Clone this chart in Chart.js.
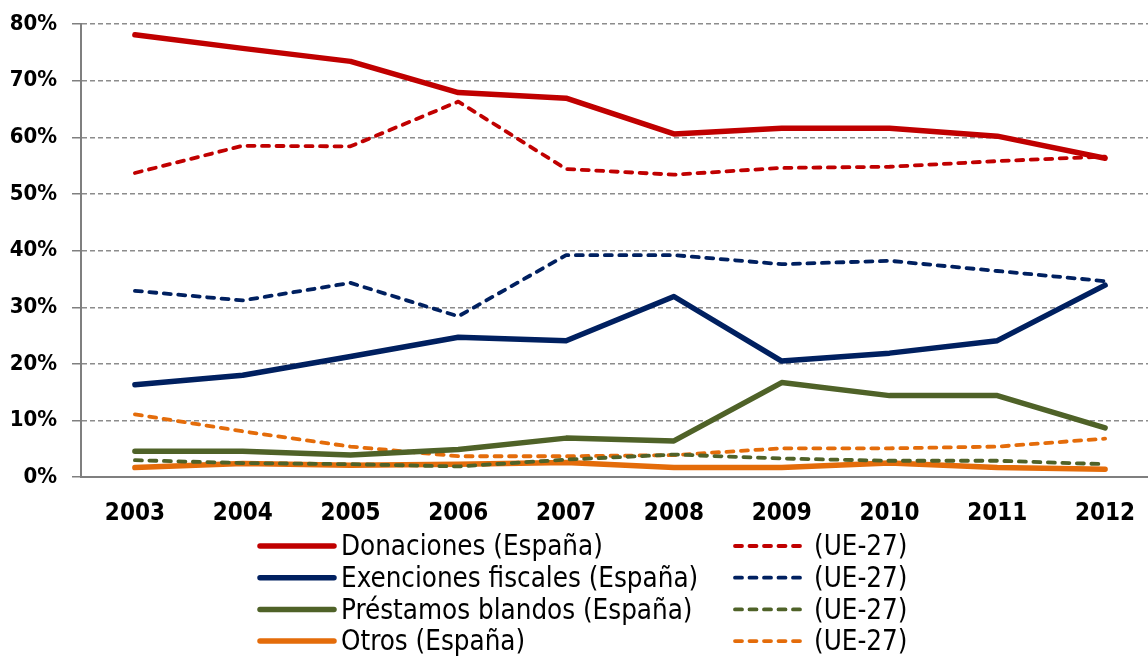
<!DOCTYPE html>
<html>
<head>
<meta charset="utf-8">
<script src="https://cdn.jsdelivr.net/npm/chart.js@4"></script>
<style>
  html, body { margin: 0; padding: 0; background: #fff; overflow: hidden; }
  canvas { display: block; }
</style>
</head>
<body>
<canvas id="lineChart" width="1160" height="657"></canvas>
<script>
// años y series (% del total)
const years = ['2003', '2004', '2005', '2006', '2007', '2008', '2009', '2010', '2011', '2012'];

const donacionesEs = [78.1, 75.7, 73.4, 67.9, 66.9, 60.6, 61.6, 61.6, 60.2, 56.3];
const donacionesUe = [53.7, 58.5, 58.4, 66.3, 54.4, 53.4, 54.6, 54.8, 55.8, 56.6];
const exencionesEs = [16.3, 18.0, 21.3, 24.7, 24.1, 31.9, 20.5, 21.9, 24.1, 33.9];
const exencionesUe = [32.9, 31.2, 34.3, 28.4, 39.2, 39.2, 37.6, 38.2, 36.4, 34.6];
const prestamosEs = [4.6, 4.6, 3.9, 4.9, 6.9, 6.4, 16.7, 14.4, 14.4, 8.7];
const prestamosUe = [3.0, 2.5, 2.3, 1.9, 3.1, 4.0, 3.3, 2.9, 2.9, 2.3];
const otrosEs = [1.7, 2.4, 2.1, 2.3, 2.6, 1.7, 1.7, 2.5, 1.7, 1.4];
const otrosUe = [11.1, 8.1, 5.4, 3.7, 3.7, 3.9, 5.1, 5.1, 5.4, 6.8];

const yTicks = [0, 10, 20, 30, 40, 50, 60, 70, 80];

const RED = '#C00000';
const NAVY = '#002060';
const GREEN = '#4F6228';
const ORANGE = '#E46C0A';

function solid(label, data, color) {
  return {
    label: label, data: data, borderColor: color, backgroundColor: color,
    borderWidth: 5.5, borderCapStyle: 'round', borderJoinStyle: 'round',
    pointRadius: 0, tension: 0, fill: false
  };
}
function dashed(label, data, color) {
  return {
    label: label, data: data, borderColor: color, backgroundColor: color,
    borderWidth: 3.8, borderDash: [7, 7.5], borderCapStyle: 'round', borderJoinStyle: 'round',
    pointRadius: 0, tension: 0, fill: false
  };
}

// leyenda en dos columnas debajo del eje
const twoColLegend = {
  id: 'twoColLegend',
  afterDraw(chart) {
    const ctx = chart.ctx;
    const sets = chart.data.datasets;
    ctx.save();
    ctx.font = '27.5px "DejaVu Sans Condensed", "DejaVu Sans", sans-serif';
    ctx.textBaseline = 'middle';
    ctx.fillStyle = '#000';
    sets.forEach((ds, i) => {
      const row = Math.floor(i / 2);
      const col = i % 2;
      const y = 546 + row * 31.7;
      const x0 = col === 0 ? 260 : 735;
      const x1 = col === 0 ? 334 : 806;
      ctx.strokeStyle = ds.borderColor;
      ctx.lineWidth = ds.borderWidth;
      ctx.lineCap = ds.borderCapStyle;
      ctx.setLineDash(ds.borderDash || []);
      ctx.beginPath();
      ctx.moveTo(x0, y);
      ctx.lineTo(x1, y);
      ctx.stroke();
      ctx.setLineDash([]);
      ctx.fillText(ds.label, col === 0 ? 341 : 814, y + 2);
    });
    ctx.restore();
  }
};

new Chart(document.getElementById('lineChart').getContext('2d'), {
  type: 'line',
  data: {
    labels: years,
    datasets: [
      solid('Donaciones (España)', donacionesEs, RED),
      dashed('(UE-27)', donacionesUe, RED),
      solid('Exenciones fiscales (España)', exencionesEs, NAVY),
      dashed('(UE-27)', exencionesUe, NAVY),
      solid('Préstamos blandos (España)', prestamosEs, GREEN),
      dashed('(UE-27)', prestamosUe, GREEN),
      solid('Otros (España)', otrosEs, ORANGE),
      dashed('(UE-27)', otrosUe, ORANGE)
    ]
  },
  options: {
    responsive: false,
    animation: false,
    layout: { padding: { top: 24, right: 1, bottom: 107, left: 0 } },
    plugins: {
      legend: { display: false },
      tooltip: { enabled: false }
    },
    scales: {
      x: {
        offset: true,
        grid: { display: false, drawTicks: false },
        border: { display: true, color: '#7f7f7f', width: 2 },
        ticks: {
          color: '#000',
          padding: 22,
          maxRotation: 0,
          font: { family: '"DejaVu Sans Condensed", "DejaVu Sans", sans-serif', size: 24, weight: 'bold' }
        }
      },
      y: {
        min: 0,
        max: 80,
        afterFit(scale) {
          scale.width = 81;
          scale.paddingTop = 0;
          scale.paddingBottom = 0;
        },
        afterBuildTicks(scale) { scale.ticks = yTicks.map(v => ({ value: v })); },
        grid: {
          color: '#8c8c8c',
          lineWidth: 1.5,
          tickLength: 9,
          tickBorderDash: [],
          tickColor: '#7f7f7f'
        },
        border: { display: true, color: '#7f7f7f', width: 2, dash: [5, 3] },
        ticks: {
          color: '#000',
          padding: 15,
          callback: v => v + '%',
          font: { family: '"DejaVu Sans Condensed", "DejaVu Sans", sans-serif', size: 22, weight: 'bold' }
        }
      }
    }
  },
  plugins: [twoColLegend]
});
</script>
</body>
</html>
